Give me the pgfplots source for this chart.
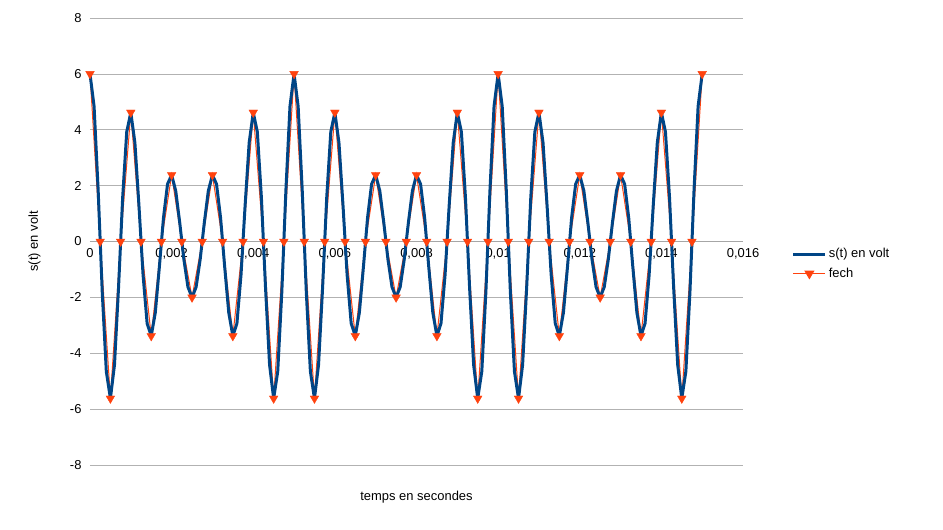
\documentclass[border=0pt]{standalone}
\usepackage{pgfplots}
\pgfplotsset{compat=1.18}
\usepackage{pgfplotstable}
\usepackage{fontspec}
\setmainfont{Liberation Sans}
\definecolor{blu}{HTML}{004586}
\definecolor{orng}{HTML}{FF420E}
\pgfplotstableread{
y
6
4.841
1.835
-1.811
-4.654
-5.618
-4.416
-1.630
1.567
3.925
4.618
3.539
1.275
-1.197
-2.933
-3.382
-2.547
-0.905
0.842
2.056
2.382
1.818
0.661
-0.637
-1.631
-2
-1.631
-0.637
0.661
1.818
2.382
2.056
0.842
-0.905
-2.547
-3.382
-2.933
-1.197
1.275
3.539
4.618
3.925
1.567
-1.630
-4.416
-5.618
-4.654
-1.811
1.835
4.841
6
4.841
1.835
-1.811
-4.654
-5.618
-4.416
-1.630
1.567
3.925
4.618
3.539
1.275
-1.197
-2.933
-3.382
-2.547
-0.905
0.842
2.056
2.382
1.818
0.661
-0.637
-1.631
-2
-1.631
-0.637
0.661
1.818
2.382
2.056
0.842
-0.905
-2.547
-3.382
-2.933
-1.197
1.275
3.539
4.618
3.925
1.567
-1.630
-4.416
-5.618
-4.654
-1.811
1.835
4.841
6
4.841
1.835
-1.811
-4.654
-5.618
-4.416
-1.630
1.567
3.925
4.618
3.539
1.275
-1.197
-2.933
-3.382
-2.547
-0.905
0.842
2.056
2.382
1.818
0.661
-0.637
-1.631
-2
-1.631
-0.637
0.661
1.818
2.382
2.056
0.842
-0.905
-2.547
-3.382
-2.933
-1.197
1.275
3.539
4.618
3.925
1.567
-1.630
-4.416
-5.618
-4.654
-1.811
1.835
4.841
6
}\sig
\pgfplotstableread{
y
6
0
-5.618
0
4.618
0
-3.382
0
2.382
0
-2
0
2.382
0
-3.382
0
4.618
0
-5.618
0
6
0
-5.618
0
4.618
0
-3.382
0
2.382
0
-2
0
2.382
0
-3.382
0
4.618
0
-5.618
0
6
0
-5.618
0
4.618
0
-3.382
0
2.382
0
-2
0
2.382
0
-3.382
0
4.618
0
-5.618
0
6
}\fech
\begin{document}
\fontsize{13}{15}\selectfont
\begin{tikzpicture}
\useasboundingbox (-90bp,-65bp) rectangle (853bp,465bp);
\begin{axis}[
  at={(0,0)}, anchor=south west,
  width=653bp, height=447bp, scale only axis,
  xmin=0, xmax=0.016, ymin=-8, ymax=8,
  axis x line=middle, axis y line=left,
  hide obscured x ticks=false, hide obscured y ticks=false,
  x axis line style={draw=gray!70, -}, y axis line style={draw=none},
  major tick length=0pt,
  ytick={-8,-6,...,8},
  xtick={0,0.002,0.004,0.006,0.008,0.01,0.012,0.014,0.016},
  xticklabels={0,{0,002},{0,004},{0,006},{0,008},{0,01},{0,012},{0,014},{0,016}},
  scaled x ticks=false,
  ymajorgrids, grid style={gray!60, line width=0.6pt},
  tick label style={font=\fontsize{13}{15}\selectfont},
  xticklabel style={yshift=-2bp},
  yticklabel style={xshift=-4bp},
  /pgf/number format/assume math mode=true,
  xlabel={temps en secondes}, ylabel={s(t) en volt},
  every axis x label/.style={at={(axis description cs:0.5,-0.072)}, anchor=center},
  every axis y label/.style={at={(axis description cs:-0.085,0.5)}, rotate=90, anchor=center},
  label style={font=\fontsize{13}{15}\selectfont},
  legend style={at={(1.07,0.45)}, anchor=west, draw=none, fill=none, font=\fontsize{13}{15}\selectfont, row sep=4bp},
  legend image code/.code={\draw[#1] (0bp,0bp) -- (32bp,0bp); \draw[#1,draw=none] plot coordinates {(16bp,0bp)};},
  legend cell align=left,
  clip=false,
]
\addplot[orng, line width=1pt, forget plot] table[x expr=\coordindex*0.00025, y=y] {\fech};
\addplot[blu, line width=3pt, line join=round] table[x expr=\coordindex*0.0001, y=y] {\sig};
\addlegendentry{s(t) en volt}
\addplot[draw=none, mark=triangle*, mark size=5pt, mark options={fill=orng, draw=orng, rotate=180},
  legend image post style={draw=orng, line width=1pt}] table[x expr=\coordindex*0.00025, y=y] {\fech};
\addlegendentry{fech}
\end{axis}
\end{tikzpicture}
\end{document}
